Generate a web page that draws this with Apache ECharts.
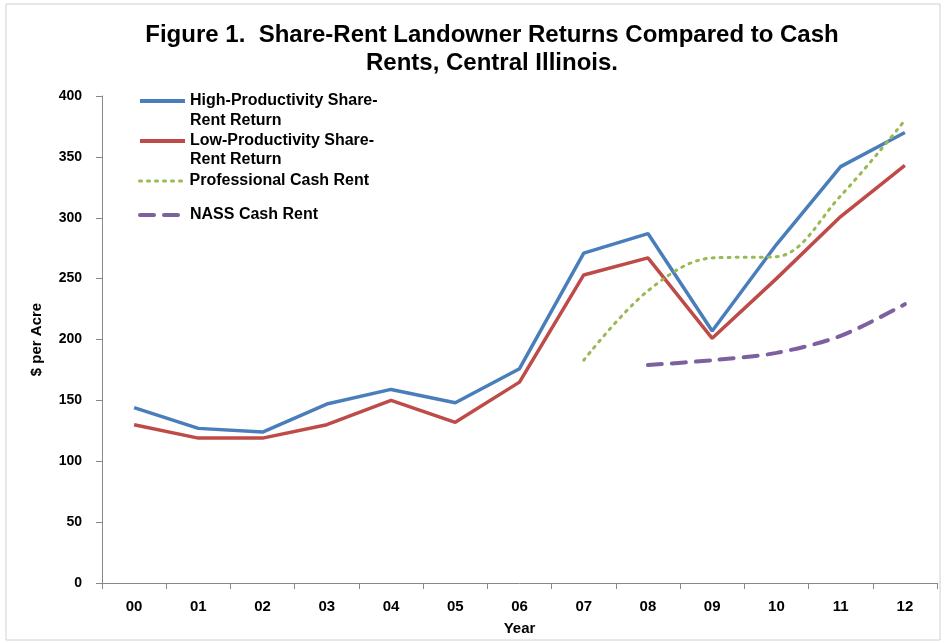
<!DOCTYPE html>
<html>
<head>
<meta charset="utf-8">
<script src="https://cdn.jsdelivr.net/npm/echarts@6/dist/echarts.min.js"></script>
<style>
html, body { margin: 0; padding: 0; background: #fff; }
#chart { width: 952px; height: 643px; }
</style>
</head>
<body>
<div id="chart"></div>
<script>
// data
const years = ['00', '01', '02', '03', '04', '05', '06', '07', '08', '09', '10', '11', '12'];
const highShare = [144, 127, 124, 147, 159, 148, 176, 271, 287, 207, 278, 342, 370];
const lowShare = [130, 119, 119, 130, 150, 132, 165, 253, 267, 201, 250, 301, 343];
const proCash = [null, null, null, null, null, null, null, 183, 240, 267, 268, 318, 380];
const nassCash = [null, null, null, null, null, null, null, null, 179, 183, 189, 203, 229];

const font = 'Liberation Sans, Arial, sans-serif';
const legendText = { fontFamily: font, fontWeight: 'bold', fontSize: 16, color: '#000' };

const chart = echarts.init(document.getElementById('chart'));

// one legend per entry so each row can sit where the original puts it
function legendBox(name, label, top, width) {
    return {
        data: [name],
        left: 133,
        top: top,
        itemWidth: 45,
        itemHeight: 14,
        itemGap: 4,
        itemStyle: { opacity: 0 },
        lineStyle: { width: width },
        textStyle: legendText,
        formatter: function () { return label; }
    };
}

const option = {
    backgroundColor: '#fff',
    animation: false,
    title: {
        text: 'Figure 1.  Share-Rent Landowner Returns Compared to Cash\nRents, Central Illinois.',
        left: 487,
        textAlign: 'center',
        top: 16,
        textStyle: { fontFamily: font, fontWeight: 'bold', fontSize: 24, color: '#000', lineHeight: 28 }
    },
    legend: [
        legendBox('High-Productivity Share-Rent Return', 'High-Productivity Share-', 88, 4),
        legendBox('Low-Productivity Share-Rent Return', 'Low-Productivity Share-', 128, 4),
        legendBox('Professional Cash Rent', 'Professional Cash Rent', 168, 3),
        legendBox('NASS Cash Rent', 'NASS Cash Rent', 202, 4)
    ],
    grid: { left: 102, right: 15, top: 96, bottom: 60 },
    xAxis: {
        type: 'category',
        data: years,
        boundaryGap: true,
        name: 'Year',
        nameLocation: 'middle',
        nameGap: 38,
        nameTextStyle: { fontFamily: font, fontWeight: 'bold', fontSize: 15, color: '#000' },
        axisLine: { lineStyle: { color: '#888', width: 1 } },
        axisTick: { show: true, length: 6, lineStyle: { color: '#888' } },
        axisLabel: { fontFamily: font, fontWeight: 'bold', fontSize: 15, color: '#000', margin: 16 }
    },
    yAxis: {
        type: 'value',
        min: 0,
        max: 400,
        interval: 50,
        name: '$ per Acre',
        nameLocation: 'middle',
        nameGap: 58,
        nameTextStyle: { fontFamily: font, fontWeight: 'bold', fontSize: 15, color: '#000' },
        axisLine: { show: true, lineStyle: { color: '#888', width: 1 } },
        axisTick: { show: true, length: 6, lineStyle: { color: '#888' } },
        axisLabel: { fontFamily: font, fontWeight: 'bold', fontSize: 14, color: '#000', margin: 20 },
        splitLine: { show: false }
    },
    series: [
        {
            name: 'High-Productivity Share-Rent Return',
            type: 'line',
            data: highShare,
            color: '#4A7EBB',
            symbol: 'none',
            lineStyle: { width: 3.5, color: '#4A7EBB' }
        },
        {
            name: 'Low-Productivity Share-Rent Return',
            type: 'line',
            data: lowShare,
            color: '#BE4B48',
            symbol: 'none',
            lineStyle: { width: 3.5, color: '#BE4B48' }
        },
        {
            name: 'Professional Cash Rent',
            type: 'line',
            data: proCash,
            color: '#98B954',
            symbol: 'none',
            smooth: 0.35,
            lineStyle: { width: 3, color: '#98B954', type: [2, 6], cap: 'round' }
        },
        {
            name: 'NASS Cash Rent',
            type: 'line',
            data: nassCash,
            color: '#7D60A0',
            symbol: 'none',
            smooth: 0.3,
            lineStyle: { width: 4, color: '#7D60A0', type: [14, 10], cap: 'round' }
        }
    ],
    graphic: [
        {
            type: 'rect',
            shape: { x: 6, y: 4, width: 934, height: 636 },
            style: { fill: 'none', stroke: '#d0d0d0', lineWidth: 1 },
            silent: true
        },
        // second lines of the two wrapped legend labels
        { type: 'text', left: 190, top: 113, style: Object.assign({ text: 'Rent Return' }, legendText) },
        { type: 'text', left: 190, top: 152, style: Object.assign({ text: 'Rent Return' }, legendText) }
    ]
};

chart.setOption(option);
window.addEventListener('resize', () => chart.resize());
</script>
</body>
</html>
